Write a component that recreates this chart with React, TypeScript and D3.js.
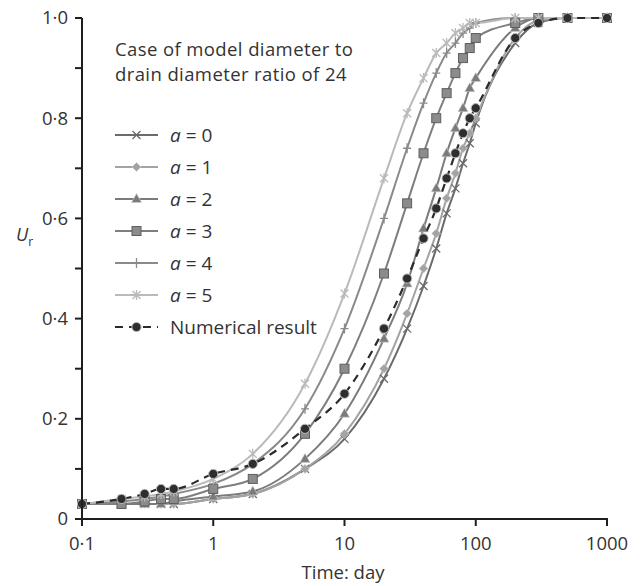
import React, { useEffect, useRef } from 'react';
import * as d3 from 'd3';

// Time (day) at which each curve was sampled
const days = [0.1, 0.2, 0.3, 0.4, 0.5, 1, 2, 5, 10, 20, 30, 40, 50, 60, 70, 80, 90, 100, 200, 300, 500, 1000];

// Degree of consolidation Ur
const a0 = [0.03, 0.03, 0.03, 0.03, 0.03, 0.04, 0.05, 0.1, 0.16, 0.28, 0.38, 0.465, 0.54, 0.61, 0.66, 0.71, 0.75, 0.79, 0.95, 0.99, 1.0, 1.0];
const a1 = [0.03, 0.03, 0.03, 0.03, 0.03, 0.04, 0.05, 0.1, 0.17, 0.3, 0.41, 0.5, 0.57, 0.64, 0.69, 0.74, 0.77, 0.8, 0.96, 0.995, 1.0, 1.0];
const a2 = [0.03, 0.03, 0.03, 0.03, 0.035, 0.045, 0.055, 0.12, 0.21, 0.36, 0.47, 0.58, 0.66, 0.73, 0.78, 0.82, 0.86, 0.88, 0.98, 1.0, 1.0, 1.0];
const a3 = [0.03, 0.03, 0.035, 0.04, 0.04, 0.06, 0.08, 0.17, 0.3, 0.49, 0.63, 0.73, 0.8, 0.85, 0.89, 0.92, 0.94, 0.96, 0.99, 1.0, 1.0, 1.0];
const a4 = [0.03, 0.035, 0.04, 0.045, 0.05, 0.07, 0.11, 0.22, 0.38, 0.6, 0.74, 0.83, 0.89, 0.93, 0.95, 0.97, 0.98, 0.99, 1.0, 1.0, 1.0, 1.0];
const a5 = [0.03, 0.04, 0.045, 0.05, 0.055, 0.08, 0.13, 0.27, 0.45, 0.68, 0.81, 0.88, 0.93, 0.95, 0.97, 0.98, 0.99, 0.99, 1.0, 1.0, 1.0, 1.0];
const numerical = [0.03, 0.04, 0.05, 0.06, 0.06, 0.09, 0.11, 0.18, 0.25, 0.38, 0.48, 0.56, 0.62, 0.68, 0.73, 0.77, 0.8, 0.82, 0.96, 0.99, 1.0, 1.0];

const seriesNames = ['0', '1', '2', '3', '4', '5'];
const xTicks = [0.1, 1, 10, 100, 1000];
const xTickLabels = ['0·1', '1', '10', '100', '1000'];
const yTicks = [0, 0.2, 0.4, 0.6, 0.8, 1.0];
const yTickLabels = ['0', '0·2', '0·4', '0·6', '0·8', '1·0'];
const yMinorTicks = [0.1, 0.3, 0.5, 0.7, 0.9];
const noteLines = ['Case of model diameter to', 'drain diameter ratio of 24'];

const FONT = '"Open Sans", "DejaVu Sans", sans-serif';

const App = () => {
  const svgRef = useRef(null);
  const width = 643;
  const height = 586;

  useEffect(() => {
    const svg = d3.select(svgRef.current);
    svg.selectAll('*').remove();

    const margin = { top: 18, right: 36, bottom: 67, left: 82 };
    const innerWidth = width - margin.left - margin.right;
    const innerHeight = height - margin.top - margin.bottom;

    const g = svg.append('g').attr('transform', `translate(${margin.left},${margin.top})`);

    const xScale = d3.scaleLog().domain([0.1, 1000]).range([0, innerWidth]);
    const yScale = d3.scaleLinear().domain([0, 1]).range([innerHeight, 0]);

    const styles = [
      { name: seriesNames[0], values: a0, color: '#6b6b6b', marker: 'x' },
      { name: seriesNames[1], values: a1, color: '#a3a3a3', marker: 'diamond' },
      { name: seriesNames[2], values: a2, color: '#7b7b7b', marker: 'triangle' },
      { name: seriesNames[3], values: a3, color: '#7e7e7e', marker: 'square' },
      { name: seriesNames[4], values: a4, color: '#8a8a8a', marker: 'plus' },
      { name: seriesNames[5], values: a5, color: '#bababa', marker: 'star' },
    ];

    const line = d3.line()
      .x(d => xScale(d[0]))
      .y(d => yScale(d[1]))
      .curve(d3.curveMonotoneX);

    // draws a marker at (x, y) into a parent
    const drawMarker = (parent, type, x, y, color) => {
      const m = parent.append('g').attr('transform', `translate(${x},${y})`);
      if (type === 'x') {
        m.append('path').attr('d', 'M-4,-4L4,4M-4,4L4,-4').attr('stroke', color).attr('stroke-width', 1.3).attr('fill', 'none');
      } else if (type === 'plus') {
        m.append('path').attr('d', 'M0,-5L0,5M-4,0L4,0').attr('stroke', color).attr('stroke-width', 1.3).attr('fill', 'none');
      } else if (type === 'star') {
        m.append('path').attr('d', 'M-4,-4L4,4M-4,4L4,-4M0,-5L0,5').attr('stroke', color).attr('stroke-width', 1.3).attr('fill', 'none');
      } else if (type === 'diamond') {
        m.append('path').attr('d', 'M0,-4.5L4.5,0L0,4.5L-4.5,0Z').attr('fill', color).attr('stroke', '#d0d0d0').attr('stroke-width', 0.6);
      } else if (type === 'triangle') {
        m.append('path').attr('d', 'M0,-5.5L5,3.5L-5,3.5Z').attr('fill', color).attr('stroke', '#d0d0d0').attr('stroke-width', 0.6);
      } else if (type === 'square') {
        m.append('rect').attr('x', -4.5).attr('y', -4.5).attr('width', 9).attr('height', 9)
          .attr('fill', '#8c8c8c').attr('stroke', '#5e5e5e').attr('stroke-width', 1);
      } else if (type === 'dot') {
        m.append('circle').attr('r', 4.6).attr('fill', '#2e2e2e').attr('stroke', '#bdbdbd').attr('stroke-width', 1);
      }
    };

    // Analytical curves
    styles.forEach(s => {
      const pts = days.map((d, i) => [d, s.values[i]]);
      g.append('path')
        .datum(pts)
        .attr('fill', 'none')
        .attr('stroke', s.color)
        .attr('stroke-width', 2)
        .attr('d', line);
    });
    styles.forEach(s => {
      days.forEach((d, i) => drawMarker(g, s.marker, xScale(d), yScale(s.values[i]), s.color));
    });

    // Numerical result
    const numPts = days.map((d, i) => [d, numerical[i]]);
    g.append('path')
      .datum(numPts)
      .attr('fill', 'none')
      .attr('stroke', '#2b2b2b')
      .attr('stroke-width', 2.2)
      .attr('stroke-dasharray', '8,6')
      .attr('d', line);
    numPts.forEach(p => drawMarker(g, 'dot', xScale(p[0]), yScale(p[1]), '#2b2b2b'));

    // Axes
    const axisColor = '#1e1e1e';
    g.append('line')
      .attr('x1', 0).attr('x2', 0).attr('y1', 0).attr('y2', innerHeight)
      .attr('stroke', axisColor).attr('stroke-width', 2);
    g.append('line')
      .attr('x1', -1).attr('x2', innerWidth + 1).attr('y1', innerHeight).attr('y2', innerHeight)
      .attr('stroke', axisColor).attr('stroke-width', 2);

    [...yTicks, ...yMinorTicks].forEach(t => {
      g.append('line')
        .attr('x1', -7).attr('x2', 0).attr('y1', yScale(t)).attr('y2', yScale(t))
        .attr('stroke', axisColor).attr('stroke-width', 2);
    });
    yTicks.forEach((t, i) => {
      g.append('text')
        .attr('x', -14).attr('y', yScale(t))
        .attr('dy', '0.35em')
        .attr('text-anchor', 'end')
        .attr('fill', '#333')
        .style('font-family', FONT)
        .style('font-size', '18.5px')
        .text(yTickLabels[i]);
    });

    xTicks.forEach((t, i) => {
      g.append('line')
        .attr('x1', xScale(t)).attr('x2', xScale(t)).attr('y1', innerHeight).attr('y2', innerHeight + 7)
        .attr('stroke', axisColor).attr('stroke-width', 2);
      g.append('text')
        .attr('x', xScale(t)).attr('y', innerHeight + 31)
        .attr('text-anchor', 'middle')
        .attr('fill', '#333')
        .style('font-family', FONT)
        .style('font-size', '18.5px')
        .text(xTickLabels[i]);
    });

    // Axis titles
    svg.append('text')
      .attr('x', 343).attr('y', height - 7)
      .attr('text-anchor', 'middle')
      .attr('fill', '#333')
      .style('font-family', FONT)
      .style('font-size', '18.5px')
      .text('Time: day');

    const ur = svg.append('text')
      .attr('x', 16).attr('y', 241)
      .attr('fill', '#333')
      .style('font-family', FONT)
      .style('font-size', '18px');
    ur.append('tspan').style('font-style', 'italic').text('U');
    ur.append('tspan').attr('dy', 5).style('font-size', '12px').text('r');

    // Note (two lines)
    noteLines.forEach((txt, i) => {
      svg.append('text')
        .attr('x', 115).attr('y', 56 + i * 25)
        .attr('fill', '#333')
        .style('font-family', FONT)
        .style('font-size', '18.5px')
        .style('letter-spacing', '0.4px')
        .text(txt);
    });

    // Legend
    const legend = svg.append('g').attr('transform', 'translate(115, 135)');
    styles.forEach((s, i) => {
      const row = legend.append('g').attr('transform', `translate(0, ${i * 32})`);
      row.append('line')
        .attr('x1', 0).attr('x2', 43)
        .attr('stroke', s.color).attr('stroke-width', 2);
      drawMarker(row, s.marker, 21.5, 0, s.color);
      const t = row.append('text')
        .attr('x', 55).attr('y', 7)
        .attr('fill', '#333')
        .style('font-family', FONT)
        .style('font-size', '19px');
      t.append('tspan').style('font-style', 'italic').text('a');
      t.append('tspan').text(` = ${s.name}`);
    });
    const numRow = legend.append('g').attr('transform', `translate(0, ${styles.length * 32})`);
    numRow.append('line')
      .attr('x1', 0).attr('x2', 43)
      .attr('stroke', '#2b2b2b').attr('stroke-width', 2.2)
      .attr('stroke-dasharray', '8,6');
    drawMarker(numRow, 'dot', 21.5, 0, '#2b2b2b');
    numRow.append('text')
      .attr('x', 55).attr('y', 7)
      .attr('fill', '#333')
      .style('font-family', FONT)
      .style('font-size', '19px')
      .text('Numerical result');
  }, []);

  return (
    <svg
      ref={svgRef}
      width={width}
      height={height}
      style={{ position: 'absolute', left: 0, top: 0, background: '#fff' }}
    />
  );
};

export default App;
